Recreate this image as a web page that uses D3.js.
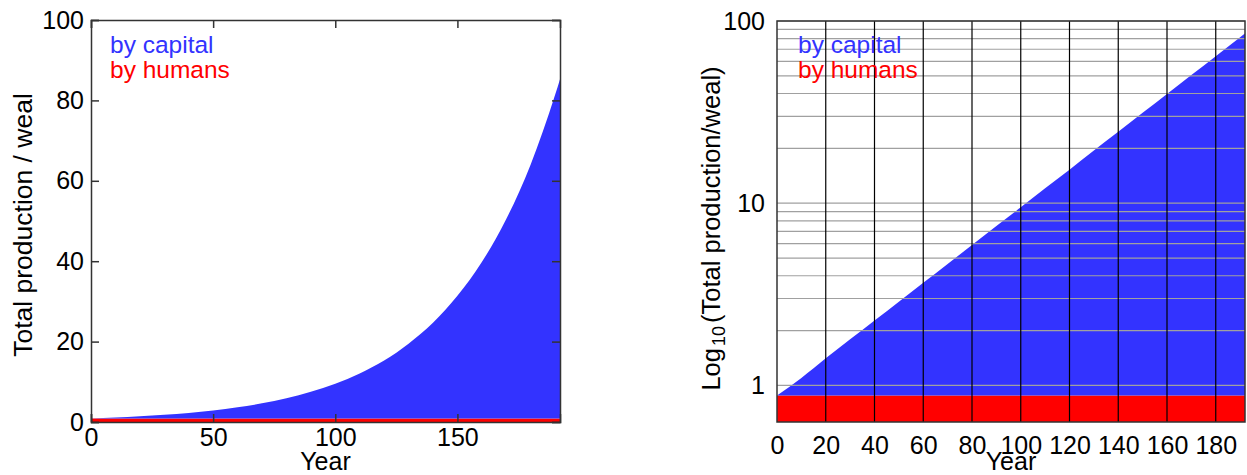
<!DOCTYPE html>
<html>
<head>
<meta charset="utf-8">
<script src="https://cdn.jsdelivr.net/npm/d3@7"></script>
<style>
  body { margin: 0; background: #fff; }
  svg { display: block; font-family: "Liberation Sans", Arial, sans-serif; }
  .tick text { font-size: 25px; fill: #000; }
  .frame path.domain { stroke: #333; stroke-width: 1.5; }
  .frame .tick line { stroke: #333; stroke-width: 1.5; }
</style>
</head>
<body>
<svg id="chart" width="1247" height="475"></svg>
<script>
// years sampled along the curves
const years = [0, 10, 20, 30, 40, 50, 60, 70, 80, 90, 100, 110, 120, 130, 140, 150, 160, 170, 180, 190, 192]
// production by humans (flat band)
const humanOutput = [0.88, 0.88, 0.88, 0.88, 0.88, 0.88, 0.88, 0.88, 0.88, 0.88, 0.88,
  0.88, 0.88, 0.88, 0.88, 0.88, 0.88, 0.88, 0.88, 0.88, 0.88]
// production by capital, on top of the human band
const capitalOutput = [0, 0.22, 0.53, 0.91, 1.39, 2.0, 2.78, 3.76, 5.02, 6.62, 8.62,
  11.2, 14.4, 18.6, 23.8, 30.5, 38.9, 49.6, 63.2, 80.5, 84.4]

const linearTicks = [0, 20, 40, 60, 80, 100]
const linearYearTicks = [0, 50, 100, 150]
const logYearTicks = [0, 20, 40, 60, 80, 100, 120, 140, 160, 180]
const logLabelTicks = [1, 10, 100]

const series = [
  {key: 'capital', label: 'by capital', color: '#3333ff'},
  {key: 'humans', label: 'by humans', color: '#ff0000'}
]

const rows = years.map((year, i) => ({year, humans: humanOutput[i], capital: capitalOutput[i]}))
const stacked = d3.stack().keys(['humans', 'capital'])(rows)
const colorOf = key => series.find(s => s.key === key).color

const svg = d3.select('#chart')

function drawLegend(g, x, y) {
  g.selectAll('text.legend')
    .data(series)
    .join('text')
    .attr('class', 'legend')
    .attr('x', x)
    .attr('y', (d, i) => y + i * 25)
    .attr('font-size', 24.5)
    .attr('fill', d => d.color)
    .text(d => d.label)
}

function drawYearLabel(g, left, right) {
  g.append('text')
    .attr('x', (left + right) / 2)
    .attr('y', 470)
    .attr('text-anchor', 'middle')
    .attr('font-size', 25)
    .text('Year')
}

// ---- left: linear scale ----
{
  const left = 91, right = 560, top = 20, bottom = 422
  const x = d3.scaleLinear().domain([0, 192]).range([left, right])
  const y = d3.scaleLinear().domain([0, 100]).range([bottom, top])
  const g = svg.append('g')

  const area = d3.area()
    .curve(d3.curveMonotoneX)
    .x(d => x(d.data.year))
    .y0(d => y(d[0]))
    .y1(d => y(d[1]))

  g.selectAll('path.layer')
    .data(stacked)
    .join('path')
    .attr('class', 'layer')
    .attr('fill', d => colorOf(d.key))
    .attr('d', area)

  const frame = g.append('g').attr('class', 'frame')
  frame.append('g').attr('transform', `translate(${left},0)`)
    .call(d3.axisLeft(y).tickValues(linearTicks).tickSize(-8).tickPadding(7))
  frame.append('g').attr('transform', `translate(${right},0)`)
    .call(d3.axisRight(y).tickValues(linearTicks).tickSize(-8).tickFormat(''))
  frame.append('g').attr('transform', `translate(0,${bottom})`)
    .call(d3.axisBottom(x).tickValues(linearYearTicks).tickSize(-8).tickPadding(6))
  frame.append('g').attr('transform', `translate(0,${top})`)
    .call(d3.axisTop(x).tickValues(linearYearTicks).tickSize(-8).tickFormat(''))
  frame.selectAll('path.domain').attr('fill', 'none')

  drawLegend(g, 110, 53)
  drawYearLabel(g, left, right)

  g.append('text')
    .attr('transform', `translate(32,${(top + bottom) / 2 + 4}) rotate(-90)`)
    .attr('text-anchor', 'middle')
    .attr('font-size', 26.5)
    .text('Total production / weal')
}

// ---- right: log scale ----
{
  const left = 777, right = 1245, top = 21, bottom = 422
  const x = d3.scaleLinear().domain([0, 192]).range([left, right])
  const y = d3.scaleLog().domain([0.63, 100]).range([bottom, top])
  const yMin = y.domain()[0]
  const g = svg.append('g')

  const area = d3.area()
    .curve(d3.curveMonotoneX)
    .x(d => x(d.data.year))
    .y0(d => y(Math.max(d[0], yMin)))
    .y1(d => y(Math.max(d[1], yMin)))

  g.selectAll('path.layer')
    .data(stacked)
    .join('path')
    .attr('class', 'layer')
    .attr('fill', d => colorOf(d.key))
    .attr('d', area)

  // horizontal minor grid, from 1 upward
  g.append('g')
    .selectAll('line')
    .data(y.ticks().filter(v => v >= 1))
    .join('line')
    .attr('x1', left).attr('x2', right)
    .attr('y1', d => y(d)).attr('y2', d => y(d))
    .attr('stroke', '#a0a0a0')
    .attr('stroke-width', 1.2)

  // vertical grid
  g.append('g')
    .selectAll('line')
    .data(logYearTicks.slice(1))
    .join('line')
    .attr('x1', d => x(d)).attr('x2', d => x(d))
    .attr('y1', top).attr('y2', bottom)
    .attr('stroke', '#000')
    .attr('stroke-width', 1.2)

  g.append('rect')
    .attr('x', left).attr('y', top)
    .attr('width', right - left).attr('height', bottom - top)
    .attr('fill', 'none')
    .attr('stroke', '#333')
    .attr('stroke-width', 1.5)

  const yAxis = g.append('g').attr('transform', `translate(${left},0)`)
    .call(d3.axisLeft(y).tickValues(logLabelTicks).tickFormat(d3.format('d')).tickSize(0).tickPadding(12))
  yAxis.select('path.domain').remove()

  const xAxis = g.append('g').attr('transform', `translate(0,${bottom})`)
    .call(d3.axisBottom(x).tickValues(logYearTicks).tickSize(0).tickPadding(14))
  xAxis.select('path.domain').remove()

  drawLegend(g, 798, 53)
  drawYearLabel(g, left, right)

  const ylab = g.append('text')
    .attr('transform', `translate(720,${(top + bottom) / 2 + 7}) rotate(-90)`)
    .attr('text-anchor', 'middle')
    .attr('font-size', 25.5)
  ylab.append('tspan').text('Log')
  ylab.append('tspan').attr('font-size', 18).attr('dx', 2).attr('dy', 5).text('10')
  ylab.append('tspan').attr('dx', 3).attr('dy', -5).text('(Total production/weal)')
}
</script>
</body>
</html>
